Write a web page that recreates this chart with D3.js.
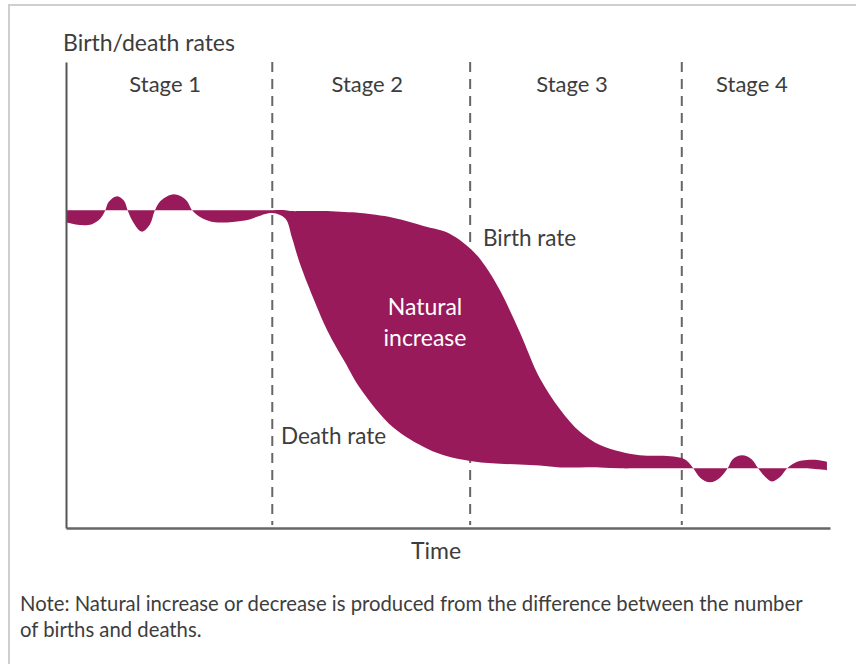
<!DOCTYPE html>
<html lang="en">
<head>
  <meta charset="UTF-8" />
  <title>Demographic transition</title>
  <script src="https://d3js.org/d3.v7.min.js"></script>
  <style>
    body { margin: 0; background: #fff; }
    svg text { font-family: 'Lato', 'Open Sans', sans-serif; }
  </style>
</head>
<body>
  <div id="chart"></div>
  <script>
    // time (0-100) and rates
    const time = [0, 1.8, 3.4, 4.5, 5.1, 5.6, 6.7, 7.6, 8.1, 8.8,
      9.9, 11.0, 11.6, 12.4, 14.1, 15.7, 16.6, 17.9, 19.5, 23.4,
      27.0, 28.7, 29.6, 30.6, 32.6, 34.2, 36.5, 38.5, 42.8, 47.3,
      49.9, 52.9, 54.8, 56.8, 59.4, 62.0, 64.7, 67.3, 69.9, 72.5,
      75.1, 79.1, 80.6, 81.4, 82.1, 83.0, 84.3, 85.6, 86.6, 87.3,
      88.5, 89.7, 90.6, 91.5, 92.4, 93.5, 94.4, 95.7, 97.0, 98.4,
      99.6];
    const birthRate = [34.1, 34.1, 34.1, 34.1, 34.1, 34.1, 34.1, 34.1, 34.1, 34.1,
      34.1, 34.1, 34.1, 34.1, 34.1, 34.1, 34.1, 34.1, 34.1, 34.1,
      34.1, 34.1, 34.0, 34.0, 34.0, 34.0, 33.9, 33.8, 33.3, 32.3,
      31.7, 30.0, 28.2, 25.5, 21.0, 16.1, 12.7, 10.3, 8.9, 8.2,
      7.8, 7.7, 7.5, 7.1, 6.4, 5.4, 4.9, 5.4, 6.4, 7.4,
      7.8, 7.4, 6.4, 5.5, 5.0, 5.5, 6.4, 7.1, 7.3, 7.3,
      7.1];
    const deathRate = [32.8, 32.5, 32.6, 33.2, 34.0, 35.0, 35.6, 35.1, 34.0, 32.8,
      31.8, 32.6, 34.0, 35.1, 35.8, 35.2, 34.0, 33.2, 32.8, 33.0,
      33.8, 33.2, 31.1, 28.4, 24.2, 21.2, 17.8, 15.0, 10.8, 8.5,
      7.7, 7.2, 7.0, 6.9, 6.8, 6.7, 6.5, 6.5, 6.5, 6.4,
      6.4, 6.4, 6.4, 6.4, 6.4, 6.4, 6.4, 6.4, 6.4, 6.4,
      6.4, 6.4, 6.4, 6.4, 6.4, 6.4, 6.4, 6.4, 6.4, 6.3,
      6.2];
    const stageBounds = [0, 27.0, 52.9, 80.6, 100];
    const stageLabels = ["Stage 1", "Stage 2", "Stage 3", "Stage 4"];

    const W = 856, H = 664;
    const fillColor = "#991a5a";
    const ink = "#3d3d3d";

    const svg = d3.select("#chart").append("svg")
      .attr("width", W)
      .attr("height", H);

    // light frame (top and left edge)
    svg.append("path")
      .attr("d", "M9,664 V5 H856")
      .attr("fill", "none")
      .attr("stroke", "#cfcfcf")
      .attr("stroke-width", 2);

    const x = d3.scaleLinear().domain([0, 100]).range([66, 830]);
    const y = d3.scaleLinear().domain([0, 50]).range([528, 62]);

    // stage dividers (under the fill)
    svg.selectAll(".divider")
      .data(stageBounds.slice(1, -1))
      .join("line")
      .attr("class", "divider")
      .attr("x1", d => x(d)).attr("x2", d => x(d))
      .attr("y1", y(50)).attr("y2", 525)
      .attr("stroke", "#666")
      .attr("stroke-width", 2)
      .attr("stroke-dasharray", "10,7");

    const rows = time.map((t, i) => ({ t, b: birthRate[i], d: deathRate[i] }));

    const area = d3.area()
      .x(d => x(d.t))
      .y0(d => y(d.d))
      .y1(d => y(d.b))
      .curve(d3.curveCatmullRom.alpha(0.5));

    svg.append("path")
      .datum(rows)
      .attr("fill", fillColor)
      .attr("d", area);

    // axes (plain lines, no ticks)
    svg.append("g")
      .attr("transform", `translate(${x(0)},0)`)
      .call(d3.axisLeft(y).tickValues([]).tickSizeOuter(0))
      .select(".domain").attr("stroke", "#555").attr("stroke-width", 2);

    svg.append("g")
      .attr("transform", `translate(0,${y(0)})`)
      .call(d3.axisBottom(x).tickValues([]).tickSizeOuter(0))
      .select(".domain").attr("stroke", "#666").attr("stroke-width", 2.5);

    // stage labels
    svg.selectAll(".stage")
      .data(stageLabels)
      .join("text")
      .attr("class", "stage")
      .attr("x", (d, i) => (x(stageBounds[i]) + x(stageBounds[i + 1])) / 2 - 4)
      .attr("y", 92)
      .attr("text-anchor", "middle")
      .attr("font-size", 22)
      .attr("fill", ink)
      .text(d => d);

    svg.append("text")
      .attr("x", 63).attr("y", 51)
      .attr("font-size", 23)
      .attr("fill", ink)
      .text("Birth/death rates");

    svg.append("text")
      .attr("x", 483).attr("y", 246)
      .attr("font-size", 22.5)
      .attr("fill", ink)
      .text("Birth rate");

    svg.append("text")
      .attr("x", 281).attr("y", 444)
      .attr("font-size", 22.5)
      .attr("fill", ink)
      .text("Death rate");

    const ni = svg.append("text")
      .attr("text-anchor", "middle")
      .attr("font-size", 23)
      .attr("fill", "#fff");
    ni.append("tspan").attr("x", 425).attr("y", 315).text("Natural");
    ni.append("tspan").attr("x", 425).attr("y", 346).text("increase");

    svg.append("text")
      .attr("x", 436).attr("y", 559)
      .attr("text-anchor", "middle")
      .attr("font-size", 23)
      .attr("fill", ink)
      .text("Time");

    const note = svg.append("text")
      .attr("font-size", 20.3)
      .attr("fill", ink);
    note.append("tspan").attr("x", 20).attr("y", 611)
      .text("Note: Natural increase or decrease is produced from the difference between the number");
    note.append("tspan").attr("x", 20).attr("y", 637)
      .text("of births and deaths.");
  </script>
</body>
</html>
